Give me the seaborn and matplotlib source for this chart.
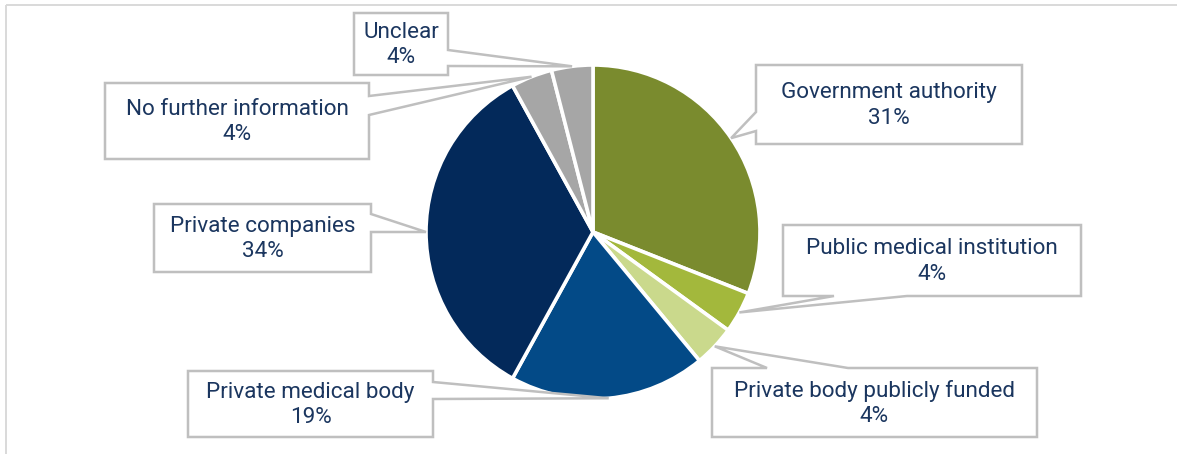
import matplotlib
matplotlib.use("Agg")
import matplotlib.pyplot as plt
import seaborn as sns
from matplotlib.patches import Polygon, Rectangle
import numpy as np

# Funding bodies and their shares (%)
categories = [
    "Government authority",
    "Public medical institution",
    "Private body publicly funded",
    "Private medical body",
    "Private companies",
    "No further information",
    "Unclear",
]
shares = [31, 4, 4, 19, 34, 4, 4]
slice_colors = ["#7A8B2E", "#A3B83C", "#CAD98C", "#034A87", "#03295A", "#A6A6A6", "#A6A6A6"]

# Callout boxes in pixel units: (left, top, right, bottom), side of the pointer, pointer base span
callouts = {
    "Government authority": ((756, 65, 1022, 144), "left", (112, 131)),
    "Public medical institution": ((783, 225, 1081, 296), "bottom", (834, 907)),
    "Private body publicly funded": ((712, 368, 1037, 437), "top", (767, 848)),
    "Private medical body": ((188, 371, 433, 437), "right", (382, 399)),
    "Private companies": ((154, 204, 371, 272), "right", (214, 232)),
    "No further information": ((105, 83, 369, 159), "right", (96, 115)),
    "Unclear": ((354, 13, 448, 75), "right", (50, 66)),
}

sns.set_theme(style="white")
plt.rcParams["font.family"] = ["Roboto", "DejaVu Sans"]

W, H = 1177, 454
CX, CY, R = 593, 232, 167
TEXT_COLOR = "#1B365F"
EDGE = "#BFBFBF"

fig = plt.figure(figsize=(W / 100, H / 100), dpi=100)
ax = fig.add_axes([0, 0, 1, 1])

# y axis runs downward, so counterclock=True draws clockwise on screen
wedges, _ = ax.pie(
    shares,
    colors=slice_colors,
    startangle=-90,
    counterclock=True,
    center=(CX, CY),
    radius=R,
    wedgeprops=dict(edgecolor="white", linewidth=2.6),
)
ax.set_xlim(0, W)
ax.set_ylim(H, 0)
ax.set_aspect("auto")
ax.axis("off")

# chart area frame
ax.add_patch(Rectangle((6, 5), W + 20, H + 20, fill=False, edgecolor="#D9D9D9", lw=1.4, zorder=0))


def callout_polygon(box, side, span, tip):
    x0, y0, x1, y1 = box
    a, b = span
    pts = [(x0, y0)]
    if side == "top":
        pts += [(a, y0), tip, (b, y0)]
    pts.append((x1, y0))
    if side == "right":
        pts += [(x1, a), tip, (x1, b)]
    pts.append((x1, y1))
    if side == "bottom":
        pts += [(b, y1), tip, (a, y1)]
    pts.append((x0, y1))
    if side == "left":
        pts += [(x0, b), tip, (x0, a)]
    return pts


for w, name, val in zip(wedges, categories, shares):
    mid = np.deg2rad((w.theta1 + w.theta2) / 2)
    tip = (CX + R * np.cos(mid), CY + R * np.sin(mid))
    box, side, span = callouts[name]
    poly = Polygon(callout_polygon(box, side, span, tip), closed=True,
                   facecolor="white", edgecolor=EDGE, lw=1.8, zorder=3)
    ax.add_patch(poly)
    ax.text((box[0] + box[2]) / 2, (box[1] + box[3]) / 2 + 1, f"{name}\n{val}%",
            ha="center", va="center", fontsize=16.2, color=TEXT_COLOR,
            linespacing=1.3, zorder=4)

fig.savefig("out.png", dpi=100)
